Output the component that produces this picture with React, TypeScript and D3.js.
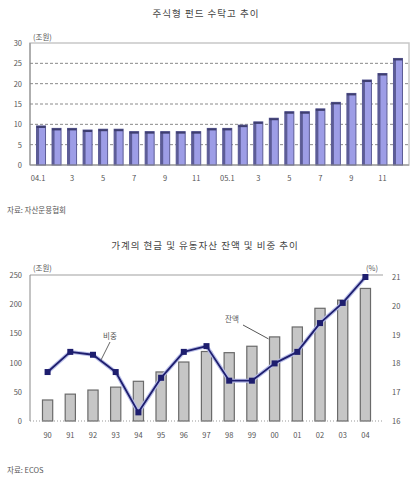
import React from 'react';
import * as d3 from 'd3';

// top chart: equity fund assets (trillion won), monthly 04.1 - 05.12
const months = ['04.1', '2', '3', '4', '5', '6', '7', '8', '9', '10', '11', '12',
  '05.1', '2', '3', '4', '5', '6', '7', '8', '9', '10', '11', '12'];
const fundValues = [9.6, 9.0, 9.0, 8.6, 8.8, 8.8, 8.2, 8.2, 8.2, 8.2, 8.2, 9.0,
  9.0, 9.8, 10.6, 11.5, 13.1, 13.1, 13.8, 15.4, 17.6, 20.9, 22.5, 26.2];
const fundTicks = [0, 5, 10, 15, 20, 25, 30];

// bottom chart: household cash & liquid assets balance (trillion won) and share (%)
const years = ['90', '91', '92', '93', '94', '95', '96', '97', '98', '99', '00', '01', '02', '03', '04'];
const balance = [36, 46, 53, 58, 68, 84, 101, 119, 117, 128, 144, 161, 193, 207, 227];
const share = [17.7, 18.4, 18.3, 17.7, 16.3, 17.5, 18.4, 18.6, 17.4, 17.4, 18.0, 18.4, 19.4, 20.1, 21.0];
const balanceTicks = [0, 50, 100, 150, 200, 250];
const shareTicks = [16, 17, 18, 19, 20, 21];

const FONT = '"Noto Sans CJK KR", "Noto Sans", sans-serif';
const TXT = '#555';

const TopChart: React.FC = () => {
  const left = 30, right = 409, top = 43, bottom = 165;
  const x = d3.scaleBand<string>().domain(months.map((m, i) => i + '')).range([left, right]).padding(0.42);
  const y = d3.scaleLinear().domain([0, 30]).range([bottom, top]);
  return (
    <g>
      <text x={206} y={17} textAnchor="middle" fontSize={9.5} letterSpacing={1} fill="#444" fontFamily={FONT}>
        주식형 펀드 수탁고 추이
      </text>
      <text x={33} y={40} fontSize={7.5} fill={TXT} fontFamily={FONT}>(조원)</text>
      <rect x={left} y={top} width={right - left} height={bottom - top} fill="none" stroke="#c8c8c8" strokeWidth={1.5} />
      {fundTicks.filter(t => t > 0 && t < 30).map(t => (
        <line key={t} x1={left} x2={right} y1={y(t)} y2={y(t)} stroke="#8a8a8a" strokeDasharray="3,2" strokeWidth={1} />
      ))}
      {fundValues.map((v, i) => {
        const bx = x(i + '')!;
        const bw = x.bandwidth();
        return (
          <g key={i}>
            <rect x={bx} y={y(v)} width={bw} height={bottom - y(v)} fill="#9d9de6" stroke="#5c5c96" strokeWidth={1} />
            <rect x={bx} y={y(v)} width={2.5} height={bottom - y(v)} fill="#5c5c96" />
            <rect x={bx} y={y(v)} width={bw} height={2} fill="#3e3e70" />
          </g>
        );
      })}
      <line x1={left} x2={left} y1={top} y2={bottom} stroke="#888" />
      <line x1={left} x2={right} y1={bottom} y2={bottom} stroke="#888" />
      {fundTicks.map(t => (
        <text key={t} x={22} y={y(t) + 3} textAnchor="end" fontSize={7.5} fill={TXT} fontFamily={FONT}>{t}</text>
      ))}
      {months.map((m, i) => (i % 2 === 0 ? (
        <text key={i} x={x(i + '')! + x.bandwidth() / 2 - (i === 0 ? 3 : 0)} y={181} textAnchor="middle" fontSize={7.5} fill={TXT} fontFamily={FONT}>{m}</text>
      ) : null))}
      <text x={7} y={213} fontSize={7.5} fill={TXT} fontFamily={FONT}>자료:  자산운용협회</text>
    </g>
  );
};

const BottomChart: React.FC = () => {
  const left = 30, right = 383, top = 275, bottom = 421;
  const x = d3.scaleBand<string>().domain(years).range([left, right]).padding(0.55);
  const y = d3.scaleLinear().domain([0, 250]).range([bottom, top]);
  const y2 = d3.scaleLinear().domain([16, 21]).range([bottom, top + 2]);
  const cx = (yr: string) => x(yr)! + x.bandwidth() / 2;
  const line = d3.line<number>().x((_, i) => cx(years[i])).y(d => y2(d));
  const b10 = years[10];
  return (
    <g>
      <text x={205} y={249} textAnchor="middle" fontSize={9.5} letterSpacing={1} fill="#444" fontFamily={FONT}>
        가계의 현금 및 유동자산 잔액 및 비중 추이
      </text>
      <text x={33} y={271} fontSize={7.5} fill={TXT} fontFamily={FONT}>(조원)</text>
      <text x={366} y={271} fontSize={7.5} fill={TXT} fontFamily={FONT}>(%)</text>
      <line x1={left} x2={right} y1={top} y2={top} stroke="#cfcfcf" strokeWidth={2} />
      {balance.map((v, i) => (
        <g key={i}>
          <rect x={x(years[i])} y={y(v)} width={x.bandwidth()} height={bottom - y(v)} fill="#c6c6c6" stroke="#6a6a6a" strokeWidth={1.2} />
        </g>
      ))}
      <line x1={left} x2={left} y1={top} y2={bottom} stroke="#888" />
      <line x1={left} x2={right} y1={bottom} y2={bottom} stroke="#999" strokeDasharray="1,2" />
      <path d={line(share) ?? ''} fill="none" stroke="#b8bde8" strokeWidth={4} strokeLinejoin="round" />
      <path d={line(share) ?? ''} fill="none" stroke="#1e1e6e" strokeWidth={1.8} strokeLinejoin="round" />
      {share.map((v, i) => (
        <rect key={i} x={cx(years[i]) - 3} y={y2(v) - 3} width={6} height={6} fill="#1e1e6e" />
      ))}
      {balanceTicks.map(t => (
        <text key={t} x={22} y={y(t) + 3} textAnchor="end" fontSize={7.5} fill={TXT} fontFamily={FONT}>{t}</text>
      ))}
      {shareTicks.map(t => (
        <text key={t} x={392} y={y2(t) + 3} fontSize={7.5} fill={TXT} fontFamily={FONT}>{t}</text>
      ))}
      {years.map(yr => (
        <text key={yr} x={cx(yr)} y={438} textAnchor="middle" fontSize={7.5} fill={TXT} fontFamily={FONT}>{yr}</text>
      ))}
      {/* annotations */}
      <line x1={101} y1={360} x2={110} y2={342} stroke="#666" strokeWidth={1} />
      <text x={103} y={339} fontSize={7.5} fill={TXT} fontFamily={FONT}>비중</text>
      <line x1={243} y1={325} x2={x(b10)! - 1} y2={y(balance[10]) + 2} stroke="#555" strokeWidth={1} />
      <text x={225} y={322} fontSize={7.5} fill={TXT} fontFamily={FONT}>잔액</text>
      <text x={7} y={473} fontSize={7.5} fill={TXT} fontFamily={FONT}>자료:  ECOS</text>
    </g>
  );
};

export default function App() {
  return (
    <svg width={413} height={480} style={{ position: 'absolute', left: 0, top: 0, background: '#fff' }}>
      <rect width={413} height={480} fill="#fff" />
      <TopChart />
      <BottomChart />
    </svg>
  );
}
